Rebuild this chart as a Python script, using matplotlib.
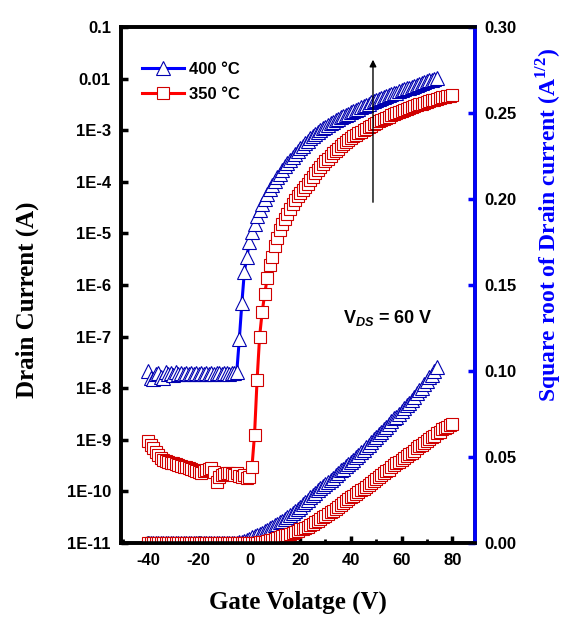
import matplotlib.pyplot as plt
from matplotlib.ticker import FixedLocator, FixedFormatter, MultipleLocator, NullLocator
import numpy as np

plt.rcParams['font.family'] = ['Liberation Sans', 'DejaVu Sans']
plt.rcParams['font.weight'] = 'bold'
plt.rcParams['axes.unicode_minus'] = False
plt.rcParams['mathtext.fontset'] = 'custom'
plt.rcParams['mathtext.rm'] = 'Liberation Serif:bold'
plt.rcParams['mathtext.it'] = 'Liberation Sans:italic'
plt.rcParams['mathtext.bf'] = 'Liberation Sans:bold'

# Gate sweep (V), shared by both devices
gate_voltage = [-40, -39, -38, -37, -36, -35, -34, -33, -32, -31,
                -30, -29, -28, -27, -26, -25, -24, -23, -22, -21,
                -20, -19, -18, -17, -16, -15, -14, -13, -12, -11,
                -10, -9, -8, -7, -6, -5, -4, -3, -2, -1,
                0, 1, 2, 3, 4, 5, 6, 7, 8, 9,
                10, 11, 12, 13, 14, 15, 16, 17, 18, 19,
                20, 21, 22, 23, 24, 25, 26, 27, 28, 29,
                30, 31, 32, 33, 34, 35, 36, 37, 38, 39,
                40, 41, 42, 43, 44, 45, 46, 47, 48, 49,
                50, 51, 52, 53, 54, 55, 56, 57, 58, 59,
                60, 61, 62, 63, 64, 65, 66, 67, 68, 69,
                70, 71, 72, 73, 74, 75, 76, 77, 78, 79,
                80]

# log10 of drain current (A)
log_id_400 = [-7.66, -7.80, -7.83, -7.72, -7.70, -7.78, -7.81, -7.68, -7.72, -7.70,
              -7.74, -7.69, -7.73, -7.71, -7.72, -7.70, -7.73, -7.71, -7.72, -7.70,
              -7.72, -7.71, -7.73, -7.70, -7.72, -7.71, -7.72, -7.70, -7.71, -7.72,
              -7.70, -7.71, -7.72, -7.70, -7.71, -7.68, -7.05, -6.35, -5.74, -5.45,
              -5.17, -4.98, -4.81, -4.67, -4.55, -4.44, -4.33, -4.23, -4.14, -4.06,
              -3.98, -3.91, -3.84, -3.77, -3.70, -3.64, -3.58, -3.52, -3.46, -3.40,
              -3.35, -3.30, -3.25, -3.20, -3.15, -3.11, -3.07, -3.03, -2.99, -2.96,
              -2.93, -2.90, -2.87, -2.84, -2.81, -2.78, -2.75, -2.73, -2.70, -2.68,
              -2.65, -2.63, -2.60, -2.58, -2.55, -2.53, -2.51, -2.49, -2.46, -2.44,
              -2.42, -2.40, -2.38, -2.36, -2.34, -2.32, -2.30, -2.28, -2.27, -2.25,
              -2.23, -2.21, -2.19, -2.18, -2.16, -2.14, -2.12, -2.10, -2.09, -2.07,
              -2.05, -2.03, -2.02, -2.00, -1.98]

log_id_350 = [-9.02, -9.10, -9.15, -9.23, -9.30, -9.36, -9.40, -9.42, -9.43, -9.45,
              -9.45, -9.47, -9.48, -9.50, -9.52, -9.53, -9.55, -9.57, -9.58, -9.60,
              -9.62, -9.65, -9.60, -9.58, -9.56, -9.55, -9.62, -9.81, -9.72, -9.68,
              -9.66, -9.65, -9.64, -9.66, -9.68, -9.65, -9.70, -9.72, -9.68, -9.75,
              -9.72, -9.52, -8.90, -7.85, -7.00, -6.53, -6.18, -5.86, -5.62, -5.46,
              -5.24, -5.09, -4.93, -4.82, -4.72, -4.62, -4.53, -4.44, -4.36, -4.28,
              -4.21, -4.16, -4.10, -4.04, -3.97, -3.90, -3.83, -3.77, -3.71, -3.65,
              -3.60, -3.55, -3.50, -3.45, -3.40, -3.36, -3.31, -3.27, -3.23, -3.19,
              -3.15, -3.12, -3.09, -3.06, -3.03, -3.00, -2.97, -2.94, -2.91, -2.88,
              -2.86, -2.83, -2.81, -2.78, -2.76, -2.74, -2.71, -2.69, -2.67, -2.65,
              -2.63, -2.61, -2.59, -2.57, -2.56, -2.54, -2.52, -2.50, -2.49, -2.47,
              -2.45, -2.44, -2.42, -2.41, -2.39, -2.38, -2.36, -2.35, -2.34, -2.33,
              -2.32]

series_labels = ['400 °C', '350 °C']

log_ticks = [1e-11, 1e-10, 1e-9, 1e-8, 1e-7, 1e-6, 1e-5, 1e-4, 1e-3, 1e-2, 1e-1]
log_tick_labels = ['1E-11', '1E-10', '1E-9', '1E-8', '1E-7', '1E-6', '1E-5',
                   '1E-4', '1E-3', '0.01', '0.1']
x_ticks = [-40, -20, 0, 20, 40, 60, 80]
sqrt_ticks = [0.00, 0.05, 0.10, 0.15, 0.20, 0.25, 0.30]

id_400 = 10 ** np.array(log_id_400)
id_350 = 10 ** np.array(log_id_350)
vg_400 = gate_voltage[:len(id_400)]
vg_350 = gate_voltage[:len(id_350)]

fig = plt.figure(figsize=(5.82, 6.35), dpi=100)
ax = fig.add_axes([0.2074, 0.1449, 0.6088, 0.8126])
ax2 = ax.twinx()

style_400 = dict(color='blue', lw=2.2, marker='^', ms=10, mfc='white', mec='#0000b0', mew=0.8)
style_350 = dict(color='red', lw=2.2, marker='s', ms=8, mfc='white', mec='#d00000', mew=0.8)

# log transfer curves (left axis)
ax.plot(vg_400, id_400, label=series_labels[0], **style_400)
ax.plot(vg_350, id_350, label=series_labels[1], **style_350)
ax.set_yscale('log')
ax.set_ylim(1e-11, 0.1)
ax.set_xlim(-50.8, 89)

# sqrt curves (right axis)
ax2.plot(vg_400, np.sqrt(id_400), **style_400)
ax2.plot(vg_350, np.sqrt(id_350), **style_350)
ax2.set_ylim(0, 0.30)

# ticks
ax.yaxis.set_major_locator(FixedLocator(log_ticks))
ax.yaxis.set_major_formatter(FixedFormatter(log_tick_labels))
ax.yaxis.set_minor_locator(NullLocator())
ax.xaxis.set_major_locator(FixedLocator(x_ticks))
ax.xaxis.set_minor_locator(MultipleLocator(10))
ax2.yaxis.set_major_locator(FixedLocator(sqrt_ticks))
ax2.yaxis.set_major_formatter(FixedFormatter(['%.2f' % t for t in sqrt_ticks]))
ax2.yaxis.set_minor_locator(NullLocator())

ax.tick_params(axis='both', which='major', direction='in', length=5, width=2.5,
               labelsize=12, pad=7)
ax.tick_params(axis='x', which='minor', direction='in', length=3, width=2)
ax2.tick_params(axis='y', which='major', direction='in', length=5, width=2.5,
                labelsize=12, pad=7, color='blue', labelcolor='black')

for sp in ax.spines.values():
    sp.set_linewidth(2.6)
for sp in ax2.spines.values():
    sp.set_linewidth(2.6)
ax2.spines['right'].set_color('blue')

# axis titles
ax.set_xlabel('Gate Volatge (V)', fontfamily='Liberation Serif', fontweight='bold',
              fontsize=18, va='center')
ax.xaxis.set_label_coords(0.5, -0.114)
ax.set_ylabel('Drain Current (A)', fontfamily='Liberation Serif', fontweight='bold',
              fontsize=18, va='center', ha='center')
ax.yaxis.set_label_coords(-0.264, 0.471)
ax2.set_ylabel('Square root of Drain current (A$^{1/2}$)', fontfamily='Liberation Serif',
               fontweight='bold', fontsize=17, color='blue', va='center', ha='center',
               rotation=90)
ax2.yaxis.set_label_coords(1.206, 0.616)

ax.legend(loc='upper left', bbox_to_anchor=(0.06, 0.932), frameon=False,
          handlelength=2.5, handletextpad=0.3, labelspacing=0.6,
          borderaxespad=0, borderpad=0, prop={'size': 12, 'weight': 'bold'})

ax.text(0.627, 0.426, 'V$_{\\mathit{DS}}$ = 60 V', transform=ax.transAxes,
        fontsize=13, fontweight='bold', va='baseline')
ax.annotate('', xy=(0.712, 0.942), xytext=(0.712, 0.655), xycoords='axes fraction',
            arrowprops=dict(arrowstyle='-|>', color='black', lw=1, mutation_scale=10))

fig.savefig('out.png', dpi=100)
